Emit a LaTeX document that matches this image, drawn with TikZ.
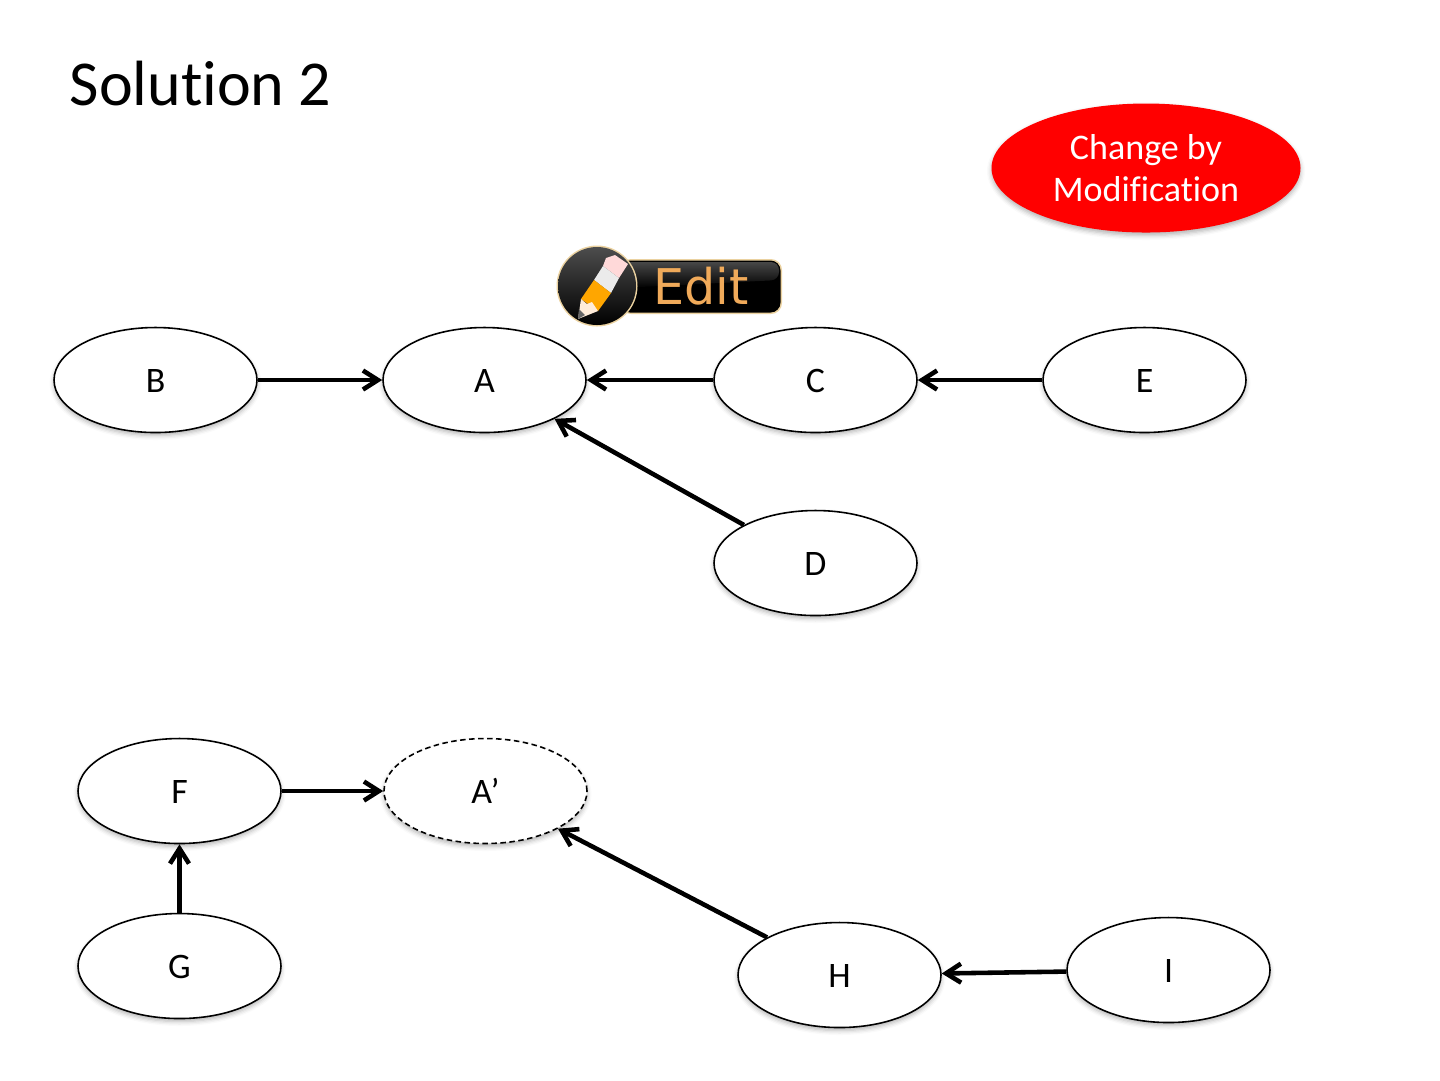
\documentclass[tikz,border=0pt]{standalone}
\usepackage{fontspec}
\setmainfont[RawFeature={-liga;-clig;-dlig}]{Carlito}
\newfontfamily\editfont{DejaVu Sans}
\usetikzlibrary{arrows.meta,shapes.geometric,shadows.blur}
\definecolor{editorange}{RGB}{240,170,90}
\definecolor{editrim}{RGB}{235,210,160}
\tikzset{
  softshadow/.style={blur shadow={shadow xshift=0mm,shadow yshift=-0.3mm,shadow blur radius=0.45mm,shadow opacity=30}},
  oval/.style={ellipse, draw, line width=0.45pt, fill=white, inner sep=0pt,
    minimum width=20.3mm, minimum height=10.5mm, text height=7.2pt, text depth=0pt, font=\fontsize{10.2}{12}\selectfont, softshadow},
  link/.style={line width=1.3pt, -{Straight Barb[length=1.5mm,width=1.9mm,line width=1.3pt]}}
}
\begin{document}
\begin{tikzpicture}[x=0.1mm, y=-0.1mm]
  \useasboundingbox (0,0) rectangle (1440,1080);
  \node (title) at (69,105) [anchor=base west, inner sep=0pt, font=\fontsize{18.2}{22}\selectfont] {Solution 2};
  \node (change) at (1146,168) [ellipse, fill=red, text=white, inner sep=0pt, minimum width=30.9mm,
    minimum height=12.9mm, align=center, font=\fontsize{10.25}{12}\selectfont, softshadow] {Change by\\Modification};

  % edit button
  \fill[editrim, rounded corners=1.1mm] (620,259) rectangle (782,314);
  \fill[black, rounded corners=1mm] (620,260.5) rectangle (780.5,312.5);
  \shade[top color=black!72, bottom color=black, rounded corners=0.8mm] (620,262) -- (779,262) -- (779,280) -- (620,288) -- cycle;
  \node (edit) at (701,286) [inner sep=0pt, text=editorange, font=\editfont\fontsize{14}{16}\selectfont] {Edit};
  \fill[editrim] (597,286) circle [radius=4.05mm];
  \shade[top color=black!70, middle color=black!97, bottom color=black] (597,286) circle [radius=3.9mm];
  \fill[pink!60!white] (603,266) -- (606,258) -- (615,255) -- (628,264) -- (619,278) -- cycle;
  \fill[black!8] (594,280) -- (603,266) -- (619,278) -- (611,293) -- cycle;
  \fill[orange!70!yellow] (581,299) -- (594,280) -- (611,293) -- (598,311) -- cycle;
  \fill[orange!15!white] (581,299) -- (578,319) -- (598,311) -- (592,302) -- (587,304) -- cycle;
  \fill[black!60] (578,319) -- (579,309) -- (585,315) -- cycle;

  \node (A) at (484.5,380) [oval] {A};
  \node (B) at (155.5,380) [oval] {B};
  \node (C) at (815.5,380) [oval] {C};
  \node (D) at (815.5,563) [oval] {D};
  \node (E) at (1144.5,380) [oval] {E};
  \node (Ap) at (485.5,791) [oval, dash pattern=on 0.55mm off 0.35mm] {A’};
  \node (F) at (179.5,791) [oval] {F};
  \node (G) at (179.5,966) [oval] {G};
  \node (H) at (839.5,975) [oval] {H};
  \node (I) at (1168.5,970) [oval] {I};

  \draw[link] (B) -- (A);
  \draw[link] (C) -- (A);
  \draw[link] (E) -- (C);
  \draw[link] (D.152) -- (A.-29);
  \draw[link] (F) -- (Ap);
  \draw[link] (G) -- (F);
  \draw[link] (H) -- (Ap);
  \draw[link] (I) -- (H);
\end{tikzpicture}
\end{document}
